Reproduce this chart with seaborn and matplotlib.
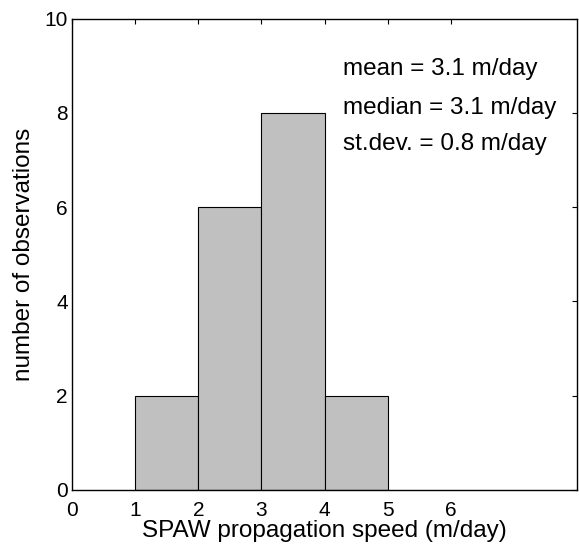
import numpy as np
import pandas as pd
import matplotlib
matplotlib.use("Agg")
import matplotlib.pyplot as plt
import seaborn as sns

# histogram of SPAW propagation speed (bin edges and counts)
bin_edges = [1, 2, 3, 4, 5]
bin_centers = [1.5, 2.5, 3.5, 4.5]
counts = [2, 6, 8, 2]

x_ticks = [0, 1, 2, 3, 4, 5, 6]
y_ticks = [0, 2, 4, 6, 8, 10]

stats_lines = ["mean = 3.1 m/day", "median = 3.1 m/day", "st.dev. = 0.8 m/day"]
stats_y = [8.81, 7.98, 7.22]

sns.set_style("white")
plt.rcParams['font.family'] = ['Liberation Sans', 'DejaVu Sans']
plt.rcParams['text.color'] = 'black'
plt.rcParams['axes.labelcolor'] = 'black'
plt.rcParams['xtick.color'] = 'black'
plt.rcParams['ytick.color'] = 'black'

df = pd.DataFrame({'speed': bin_centers, 'n': counts})

fig = plt.figure(figsize=(5.79, 5.46), dpi=100)
ax = fig.add_axes([0.1244, 0.1026, 0.8721, 0.8634])

sns.histplot(data=df, x='speed', weights='n', bins=bin_edges, ax=ax,
             color='#c0c0c0', edgecolor='black', linewidth=0.8, alpha=1.0)

ax.set_xlim(0, 8)
ax.set_ylim(0, 10)
ax.set_xticks(x_ticks)
ax.set_yticks(y_ticks)
ax.tick_params(direction='in', length=3.6, width=0.8, top=True, right=True,
               labelsize=15)
ax.tick_params(axis='x', pad=8)
ax.tick_params(axis='y', pad=3)
for s in ax.spines.values():
    s.set_linewidth(1.0)
    s.set_color('black')

ax.set_xlabel('SPAW propagation speed (m/day)', fontsize=17.5, labelpad=0)
ax.set_ylabel('number of observations', fontsize=17.5, labelpad=7)

for txt, yy in zip(stats_lines, stats_y):
    ax.text(4.3, yy, txt, fontsize=17.5, va='baseline', ha='left')

fig.savefig('out.png', dpi=100)
